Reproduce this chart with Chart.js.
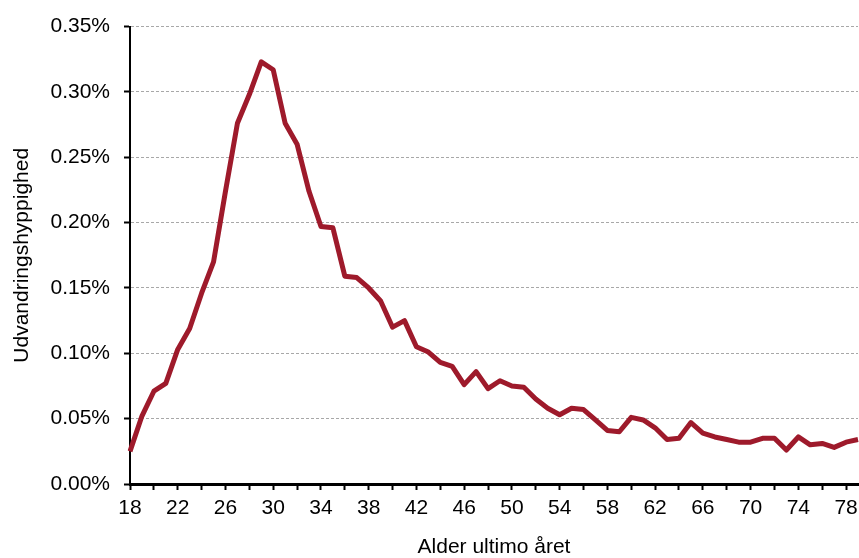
<!DOCTYPE html>
<html>
<head>
<meta charset="utf-8">
<script src="https://cdn.jsdelivr.net/npm/chart.js@4/dist/chart.umd.min.js"></script>
<style>
  html, body { margin: 0; padding: 0; background: #fff; }
  #wrap { width: 859px; height: 558px; }
</style>
</head>
<body>
<div id="wrap"><canvas id="chart" width="859" height="558"></canvas></div>
<script>
const ages = [
  18, 19, 20, 21, 22, 23, 24, 25, 26, 27, 28, 29, 30, 31, 32, 33, 34, 35, 36, 37, 38,
  39, 40, 41, 42, 43, 44, 45, 46, 47, 48, 49, 50, 51, 52, 53, 54, 55, 56, 57, 58, 59,
  60, 61, 62, 63, 64, 65, 66, 67, 68, 69, 70, 71, 72, 73, 74, 75, 76, 77, 78, 79,
];

// udvandringshyppighed i procent
const rates = [
  0.025, 0.052, 0.071, 0.077, 0.103, 0.119, 0.146, 0.170, 0.224, 0.276, 0.298, 0.323, 0.317,
  0.276, 0.260, 0.224, 0.197, 0.196, 0.159, 0.158, 0.150, 0.140, 0.120, 0.125, 0.105, 0.101,
  0.093, 0.090, 0.076, 0.086, 0.073, 0.079, 0.075, 0.074, 0.065, 0.058, 0.053, 0.058, 0.057,
  0.049, 0.041, 0.040, 0.051, 0.049, 0.043, 0.034, 0.035, 0.047, 0.039, 0.036, 0.034, 0.032,
  0.032, 0.035, 0.035, 0.026, 0.036, 0.030, 0.031, 0.028, 0.032, 0.034,
];

const yTicks = [0, 0.05, 0.10, 0.15, 0.20, 0.25, 0.30, 0.35];

const FONT = "'Liberation Sans', Arial, sans-serif";

new Chart(document.getElementById("chart"), {
  type: "line",
  data: {
    labels: ages,
    datasets: [
      {
        data: rates,
        borderColor: "#9e1a2b",
        borderWidth: 5,
        pointRadius: 0,
        tension: 0,
        borderJoinStyle: "round",
      },
    ],
  },
  options: {
    responsive: false,
    animation: false,
    layout: { padding: { top: 25, right: 1, left: 0, bottom: 0 } },
    plugins: { legend: { display: false }, tooltip: { enabled: false } },
    scales: {
      x: {
        offset: false,
        afterFit: (scale) => {
          scale.height = 74;
          scale.paddingRight = 0;
          scale.paddingLeft = 0;
        },
        ticks: {
          autoSkip: false,
          maxRotation: 0,
          padding: 6,
          color: "#000",
          font: { family: FONT, size: 21 },
          callback: (val, i) => ((ages[i] - 18) % 4 === 0 ? String(ages[i]) : ""),
        },
        grid: {
          drawOnChartArea: false,
          tickLength: 6,
          tickWidth: 2,
          tickColor: (ctx) => (ages[ctx.index] % 2 === 0 ? "#000" : "rgba(0,0,0,0)"),
        },
        border: { color: "#000", width: 3 },
        title: {
          display: true,
          text: "Alder ultimo året",
          color: "#000",
          font: { family: FONT, size: 21, lineHeight: 1 },
          padding: { top: 0, bottom: 0 },
        },
      },
      y: {
        min: 0,
        max: 0.35,
        afterFit: (scale) => { scale.width = 130; },
        afterBuildTicks: (scale) => { scale.ticks = yTicks.map((v) => ({ value: v })); },
        ticks: {
          padding: 14,
          color: "#000",
          font: { family: FONT, size: 21 },
          callback: (v) => v.toFixed(2) + "%",
        },
        grid: {
          color: "#a8a8a8",
          lineWidth: 1,
          tickLength: 6,
          tickWidth: 2,
          tickColor: "#000",
        },
        border: { color: "#000", width: 2, dash: [3, 2] },
        title: {
          display: true,
          text: "Udvandringshyppighed",
          color: "#000",
          font: { family: FONT, size: 21, lineHeight: 1 },
          padding: { top: 12, bottom: 0 },
        },
      },
    },
  },
});
</script>
</body>
</html>
